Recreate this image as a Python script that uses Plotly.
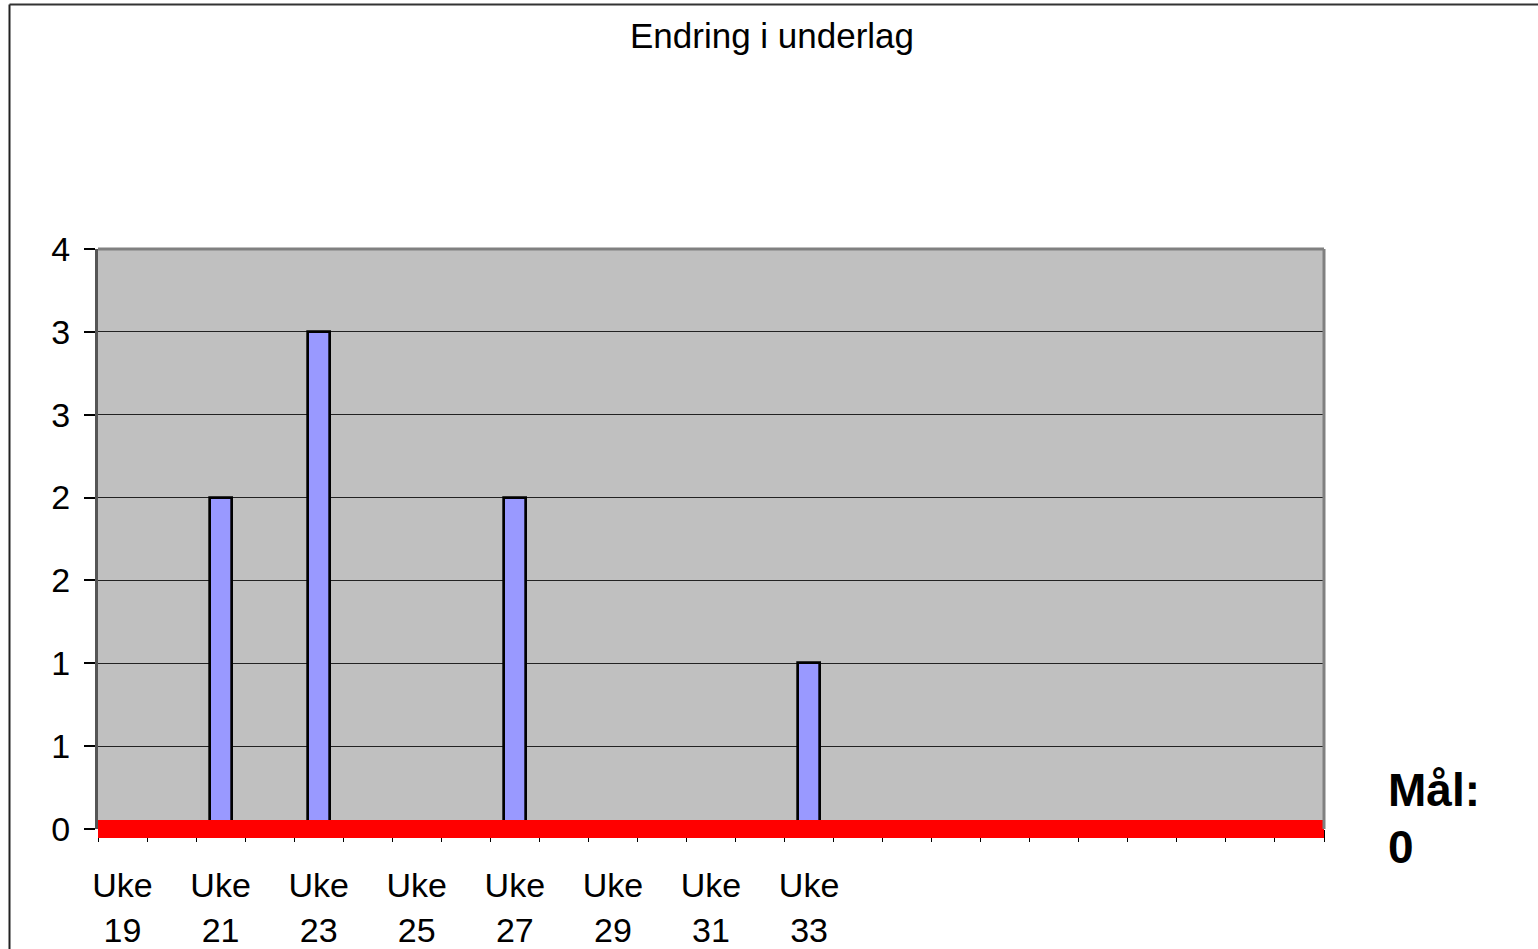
import plotly.graph_objects as go

# ---------------- data ----------------
chart_title = "Endring i underlag"
categories = ["Uke 19", "Uke 20", "Uke 21", "Uke 22", "Uke 23", "Uke 24", "Uke 25", "Uke 26",
              "Uke 27", "Uke 28", "Uke 29", "Uke 30", "Uke 31", "Uke 32", "Uke 33", "Uke 34",
              "", "", "", "", "", "", "", "", ""]
values = [0, 0, 2, 0, 3, 0, 0, 0,
          2, 0, 0, 0, 0, 0, 1, 0,
          None, None, None, None, None, None, None, None, None]
target_value = 0
target_label = "Mål:"
y_tick_vals = [0, 0.5, 1.0, 1.5, 2.0, 2.5, 3.0, 3.5]
y_tick_labels = ["0", "1", "1", "2", "2", "3", "3", "4"]
y_range = [0, 3.5]

# ---------------- layout geometry (pixels) ----------------
W, H = 1538, 949
ML, MR, MT, MB = 98, 214, 249, 120
PW, PH = W - ML - MR, H - MT - MB
FONT = "Liberation Sans, Arial, sans-serif"
TICK_SIZE = 34


def px_x(p):
    return (p - ML) / PW


def px_y(p):
    return (H - MB - p) / PH


n = len(categories)
idx = list(range(n))
label_idx = [i for i in idx if i % 2 == 0 and categories[i]]
top_text = [categories[i].split(" ")[0] for i in label_idx]
bottom_text = [categories[i].split(" ")[1] for i in label_idx]
boundaries = [i - 0.5 for i in range(n + 1)]

fig = go.Figure()
fig.add_trace(go.Bar(
    x=idx, y=values, width=0.45,
    marker=dict(color="#9999FF", line=dict(color="black", width=2.7)),
    showlegend=False, hoverinfo="x+y",
))
# helper traces so the label axes are drawn
fig.add_trace(go.Scatter(x=idx, y=[None] * n, xaxis="x2", mode="markers",
                         showlegend=False, hoverinfo="skip"))
fig.add_trace(go.Scatter(x=idx, y=[None] * n, xaxis="x3", mode="markers",
                         showlegend=False, hoverinfo="skip"))

xr = [-0.5, n - 0.5]
fig.update_layout(
    template="none",
    width=W, height=H,
    margin=dict(l=ML, r=MR, t=MT, b=MB, pad=0, autoexpand=False),
    paper_bgcolor="white",
    plot_bgcolor="#C0C0C0",
    font=dict(family=FONT, size=TICK_SIZE, color="black"),
    title=dict(text=chart_title, x=772 / W, xref="container", xanchor="center",
               y=1 - 36 / H, yref="container", yanchor="middle",
               font=dict(family=FONT, size=35, color="black")),
    bargap=0,
    xaxis=dict(range=xr, tickmode="array", tickvals=boundaries,
               ticktext=[""] * len(boundaries), ticks="outside", ticklen=12,
               tickcolor="black", tickwidth=1, showgrid=False, zeroline=False,
               showline=False, automargin=False, fixedrange=True),
    xaxis2=dict(range=xr, overlaying="x", anchor="y", side="bottom",
                tickmode="array", tickvals=label_idx, ticktext=top_text,
                ticks="", showgrid=False, zeroline=False, showline=False,
                automargin=False, ticklabelstandoff=33,
                tickfont=dict(family=FONT, size=TICK_SIZE)),
    xaxis3=dict(range=xr, overlaying="x", anchor="y", side="bottom",
                tickmode="array", tickvals=label_idx, ticktext=bottom_text,
                ticks="", showgrid=False, zeroline=False, showline=False,
                automargin=False, ticklabelstandoff=78,
                tickfont=dict(family=FONT, size=TICK_SIZE)),
    yaxis=dict(range=y_range, tickmode="array", tickvals=y_tick_vals,
               ticktext=y_tick_labels, ticks="outside", ticklen=11,
               tickcolor="black", tickwidth=1.5, showline=True,
               linecolor="#555555", linewidth=3, showgrid=True,
               gridcolor="#222222", gridwidth=1, zeroline=False,
               automargin=False, ticklabelstandoff=7,
               tickfont=dict(family=FONT, size=TICK_SIZE)),
)

ty = (target_value - y_range[0]) / (y_range[1] - y_range[0])
shapes = [
    # target line
    dict(type="line", xref="paper", yref="paper", x0=0, x1=1, y0=ty, y1=ty,
         line=dict(color="#FF0000", width=18), layer="above"),
    # plot frame top and right
    dict(type="line", xref="paper", yref="paper", x0=0, x1=1, y0=1, y1=1,
         line=dict(color="#808080", width=3), layer="above"),
    dict(type="line", xref="paper", yref="paper", x0=1, x1=1, y0=0, y1=1,
         line=dict(color="#808080", width=3), layer="above"),
    # outer chart border (left and top)
    dict(type="line", xref="paper", yref="paper", x0=px_x(9.5), x1=px_x(9.5),
         y0=px_y(H + 20), y1=px_y(4.5), line=dict(color="#222222", width=2)),
    dict(type="line", xref="paper", yref="paper", x0=px_x(9.5), x1=px_x(W + 20),
         y0=px_y(4.5), y1=px_y(4.5), line=dict(color="#333333", width=2)),
]
fig.update_layout(shapes=shapes)

fig.add_annotation(
    text="<b>" + target_label + "</b>",
    xref="paper", yref="paper", x=px_x(1386), y=px_y(790),
    xanchor="left", yanchor="middle", align="left", showarrow=False,
    font=dict(family=FONT, size=46, color="black"),
)
fig.add_annotation(
    text="<b>" + str(target_value) + "</b>",
    xref="paper", yref="paper", x=px_x(1386), y=px_y(847),
    xanchor="left", yanchor="middle", align="left", showarrow=False,
    font=dict(family=FONT, size=46, color="black"),
)

fig.write_html(
    "out.html",
    config={"displayModeBar": False},
    post_script="document.body.style.margin='0';document.body.style.overflow='hidden';",
)
